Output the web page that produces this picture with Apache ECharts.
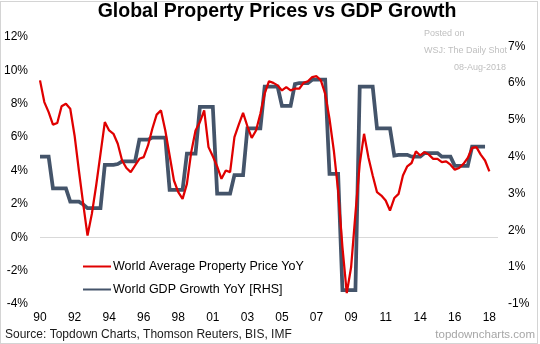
<!DOCTYPE html>
<html><head><meta charset="utf-8">
<script src="https://cdn.jsdelivr.net/npm/echarts@6/dist/echarts.min.js"></script>
<style>
html,body{margin:0;padding:0;background:#fff}
#wrap{position:relative;width:540px;height:344px}
#c{width:540px;height:344px}
#frame{position:absolute;left:0;top:1px;width:538px;height:343px;box-sizing:border-box;border:1px solid #d4d4d4;pointer-events:none}
</style>
</head><body>
<div id="wrap"><div id="c"></div><div id="frame"></div></div>
<script>
// ---- data ----
const xTickLabels = ['90','92','94','96','98','01','03','05','07','09','11','14','16','18'];
const pointsPerTick = 8;
const categoryCount = 107;

// World Average Property Price YoY (%), left axis
const propertyPriceYoY = [
  9.4, 8.1, 7.5, 6.75, 6.85, 7.85, 8.0, 7.7, 6.1, 4.0,
  2.0, 0.1, 1.4, 3.1, 5.0, 6.9, 6.4, 6.2, 5.6, 4.6,
  4.15, 3.9, 4.3, 4.7, 4.8, 5.5, 6.5, 7.35, 7.6, 6.4,
  4.9, 3.4, 2.7, 2.3, 3.2, 5.1, 6.4, 6.9, 7.6, 5.4,
  4.85, 4.25, 3.5, 4.0, 3.9, 6.0, 6.75, 7.45, 6.65, 5.95,
  6.4, 7.4, 8.6, 9.35, 9.25, 9.1, 8.8, 9.0, 8.8, 8.9,
  8.9, 9.25, 9.35, 9.6, 9.65, 9.4, 8.6, 7.1, 5.2, 2.8,
  -0.6, -3.35, -1.8, 1.4, 4.4, 6.2, 4.8, 3.7, 2.7, 2.5,
  2.2, 1.6, 2.35, 2.6, 3.7, 4.25, 4.45, 5.15, 4.9, 5.1,
  4.95, 4.7, 4.7, 4.5, 4.55, 4.35, 4.05, 4.15, 4.4, 4.75,
  5.35, 5.4, 4.95, 4.6, 3.95, null, null
];

// World GDP Growth YoY, right axis (axis position units)
const gdpGrowthYoY = [
  4.0, 4.0, 4.0, 3.14, 3.14, 3.14, 3.14, 2.78, 2.78, 2.78,
  2.7, 2.6, 2.6, 2.6, 2.6, 3.78, 3.78, 3.78, 3.8, 3.87,
  3.87, 3.87, 3.87, 4.46, 4.46, 4.46, 4.52, 4.52, 4.52, 4.52,
  3.1, 3.1, 3.1, 3.1, 4.08, 4.08, 4.08, 5.35, 5.35, 5.35,
  5.35, 3.0, 3.0, 3.0, 3.0, 3.5, 3.5, 3.5, 4.77, 4.77,
  4.77, 4.77, 5.9, 5.9, 5.9, 5.9, 5.38, 5.38, 5.38, 5.97,
  6.0, 6.0, 6.0, 6.09, 6.09, 6.09, 6.09, 3.53, 3.53, 3.53,
  0.38, 0.38, 0.38, 0.38, 5.9, 5.9, 5.9, 5.9, 4.77, 4.77,
  4.77, 4.77, 4.03, 4.05, 4.05, 4.05, 4.0, 4.0, 4.0, 4.1,
  4.1, 4.1, 4.1, 4.0, 4.0, 4.0, 3.75, 3.75, 3.75, 3.75,
  4.27, 4.27, 4.27, 4.27, null, null, null
];

const rightTickLabels = ['-1%','1%','2%','3%','4%','5%','6%','7%'];
const seriesNames = ['World Average Property Price YoY', 'World GDP Growth YoY [RHS]'];

// ---- chart ----
const FONT = '"Liberation Sans", Arial, sans-serif';
const categories = Array.from({length: categoryCount}, (_, i) => String(i));
const chart = echarts.init(document.getElementById('c'), null, {renderer: 'canvas'});

chart.setOption({
  animation: false,
  backgroundColor: '#ffffff',
  textStyle: {fontFamily: FONT},
  grid: {left: 40, right: 42, top: 37, bottom: 40, containLabel: false},
  legend: {
    data: seriesNames,
    orient: 'vertical',
    left: 77, top: 255,
    itemWidth: 28, itemHeight: 14, itemGap: 10,
    itemStyle: {opacity: 0},
    textStyle: {fontSize: 12.5, color: '#000', fontFamily: FONT, padding: [0, 0, 0, -3]}
  },
  xAxis: {
    type: 'category',
    data: categories,
    boundaryGap: false,
    axisLine: {show: false},
    axisTick: {show: false},
    splitLine: {show: false},
    axisLabel: {
      interval: pointsPerTick - 1,
      formatter: (v, i) => (i % pointsPerTick === 0 && xTickLabels[i / pointsPerTick]) || '',
      fontSize: 12, color: '#000', margin: 8, fontFamily: FONT
    }
  },
  yAxis: [
    {
      type: 'value', min: -4, max: 12, interval: 2, position: 'left',
      axisLine: {show: false}, axisTick: {show: false},
      splitLine: {show: true, lineStyle: {width: 1, color: ['rgba(0,0,0,0)','rgba(0,0,0,0)','#d9d9d9','rgba(0,0,0,0)','rgba(0,0,0,0)','rgba(0,0,0,0)','rgba(0,0,0,0)','rgba(0,0,0,0)','rgba(0,0,0,0)']}},
      axisLabel: {formatter: '{value}%', fontSize: 12, color: '#000', margin: 12, fontFamily: FONT}
    },
    {
      type: 'value', min: 0, max: 7.25, interval: 1, position: 'right',
      axisLine: {show: false}, axisTick: {show: false}, splitLine: {show: false},
      axisLabel: {
        formatter: v => (Number.isInteger(v) ? rightTickLabels[v] : ''),
        fontSize: 12, color: '#000', margin: 10, fontFamily: FONT
      }
    }
  ],
  series: [
    {
      name: seriesNames[1], type: 'line', yAxisIndex: 1, data: gdpGrowthYoY,
      symbol: 'none', showSymbol: false, connectNulls: false, z: 2,
      lineStyle: {color: '#44546A', width: 3.75, join: 'miter'},
      itemStyle: {color: '#44546A'}
    },
    {
      name: seriesNames[0], type: 'line', yAxisIndex: 0, data: propertyPriceYoY,
      symbol: 'none', showSymbol: false, connectNulls: false, z: 3,
      lineStyle: {color: '#E00000', width: 2.25},
      itemStyle: {color: '#E00000'}
    }
  ],
  graphic: [
    {type: 'text', x: 277, y: 2, style: {text: 'Global Property Prices vs GDP Growth', fontSize: 19.5, fontWeight: 'bold', fontFamily: FONT, fill: '#000', textAlign: 'center', textVerticalAlign: 'top'}},
    {type: 'text', x: 424, y: 34, style: {text: 'Posted on', fontSize: 9, fontFamily: FONT, fill: '#bfbfbf', textAlign: 'left', textVerticalAlign: 'middle'}},
    {type: 'text', x: 424, y: 51, style: {text: 'WSJ: The Daily Shot', fontSize: 9, fontFamily: FONT, fill: '#bfbfbf', textAlign: 'left', textVerticalAlign: 'middle'}},
    {type: 'text', x: 506, y: 68, style: {text: '08-Aug-2018', fontSize: 9, fontFamily: FONT, fill: '#bfbfbf', textAlign: 'right', textVerticalAlign: 'middle'}},
    {type: 'text', x: 5, y: 335, style: {text: 'Source: Topdown Charts, Thomson Reuters, BIS, IMF', fontSize: 12, fontFamily: FONT, fill: '#1a1a1a', textAlign: 'left', textVerticalAlign: 'middle'}},
    {type: 'text', x: 535, y: 335, style: {text: 'topdowncharts.com', fontSize: 11.5, fontFamily: FONT, fill: '#a6a6a6', textAlign: 'right', textVerticalAlign: 'middle'}}
  ]
});
</script>
</body></html>
